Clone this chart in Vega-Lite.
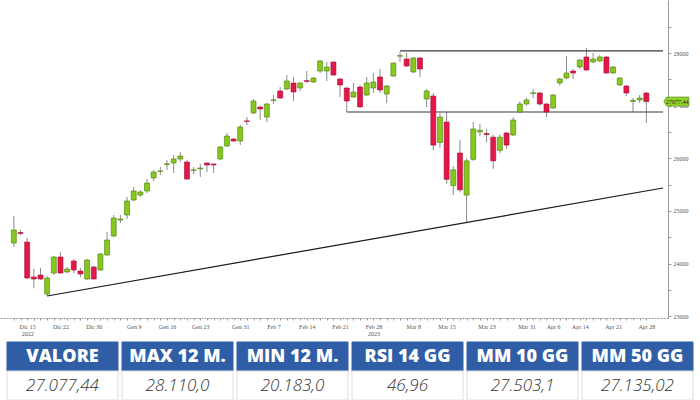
{
  "$schema": "https://vega.github.io/schema/vega-lite/v6.json",
  "background": "white",
  "padding": 0,
  "autosize": {"type": "pad"},
  "spacing": 24,
  "bounds": "flush",
  "config": {
    "view": {"stroke": null},
    "axis": {
      "labelFont": "Liberation Sans Narrow",
      "labelFontSize": 6,
      "labelColor": "#555555",
      "domainColor": "#9a9a9a",
      "tickColor": "#9a9a9a",
      "grid": false,
      "title": null
    }
  },
  "datasets": {
    "candles": [
      {"d":"2022-12-13","i":0,"o":24390,"h":24903,"l":24314,"c":24637},
      {"d":"2022-12-14","i":1,"o":24590,"h":24640,"l":24540,"c":24570},
      {"d":"2022-12-15","i":2,"o":24409,"h":24485,"l":23700,"c":23725},
      {"d":"2022-12-16","i":3,"o":23745,"h":23896,"l":23535,"c":23706},
      {"d":"2022-12-19","i":4,"o":23782,"h":23915,"l":23690,"c":23706},
      {"d":"2022-12-20","i":5,"o":23421,"h":23760,"l":23383,"c":23725},
      {"d":"2022-12-21","i":6,"o":23820,"h":24143,"l":23782,"c":24124},
      {"d":"2022-12-22","i":7,"o":24124,"h":24219,"l":23800,"c":23820},
      {"d":"2022-12-23","i":8,"o":23839,"h":23934,"l":23820,"c":23896},
      {"d":"2022-12-27","i":9,"o":24048,"h":24086,"l":23820,"c":23877},
      {"d":"2022-12-28","i":10,"o":23858,"h":23915,"l":23744,"c":23801},
      {"d":"2022-12-29","i":11,"o":23706,"h":24090,"l":23690,"c":24067},
      {"d":"2022-12-30","i":12,"o":23934,"h":23960,"l":23690,"c":23706},
      {"d":"2023-01-02","i":13,"o":23877,"h":24200,"l":23860,"c":24181},
      {"d":"2023-01-03","i":14,"o":24162,"h":24599,"l":24140,"c":24447},
      {"d":"2023-01-04","i":15,"o":24523,"h":24922,"l":24500,"c":24865},
      {"d":"2023-01-05","i":16,"o":24827,"h":24922,"l":24770,"c":24846},
      {"d":"2023-01-06","i":17,"o":24922,"h":25264,"l":24846,"c":25188},
      {"d":"2023-01-09","i":18,"o":25207,"h":25454,"l":25188,"c":25378},
      {"d":"2023-01-10","i":19,"o":25302,"h":25397,"l":25264,"c":25359},
      {"d":"2023-01-11","i":20,"o":25378,"h":25606,"l":25340,"c":25530},
      {"d":"2023-01-12","i":21,"o":25625,"h":25777,"l":25568,"c":25739},
      {"d":"2023-01-13","i":22,"o":25750,"h":25834,"l":25682,"c":25760},
      {"d":"2023-01-16","i":23,"o":25880,"h":25967,"l":25777,"c":25895},
      {"d":"2023-01-17","i":24,"o":25910,"h":26062,"l":25720,"c":25986},
      {"d":"2023-01-18","i":25,"o":25986,"h":26119,"l":25929,"c":26043},
      {"d":"2023-01-19","i":26,"o":25929,"h":25967,"l":25590,"c":25606},
      {"d":"2023-01-20","i":27,"o":25770,"h":25834,"l":25701,"c":25780},
      {"d":"2023-01-23","i":28,"o":25800,"h":25891,"l":25644,"c":25815},
      {"d":"2023-01-24","i":29,"o":25910,"h":25920,"l":25739,"c":25872},
      {"d":"2023-01-25","i":30,"o":25891,"h":25900,"l":25720,"c":25872},
      {"d":"2023-01-26","i":31,"o":25986,"h":26233,"l":25967,"c":26214},
      {"d":"2023-01-27","i":32,"o":26233,"h":26480,"l":26214,"c":26423},
      {"d":"2023-01-30","i":33,"o":26366,"h":26385,"l":26309,"c":26328},
      {"d":"2023-01-31","i":34,"o":26328,"h":26632,"l":26252,"c":26594},
      {"d":"2023-02-01","i":35,"o":26710,"h":26784,"l":26632,"c":26700},
      {"d":"2023-02-02","i":36,"o":26860,"h":27126,"l":26841,"c":27088},
      {"d":"2023-02-03","i":37,"o":26974,"h":26990,"l":26727,"c":26936},
      {"d":"2023-02-06","i":38,"o":26784,"h":27050,"l":26689,"c":27031},
      {"d":"2023-02-07","i":39,"o":27100,"h":27202,"l":27031,"c":27110},
      {"d":"2023-02-08","i":40,"o":27278,"h":27354,"l":27126,"c":27145},
      {"d":"2023-02-09","i":41,"o":27316,"h":27582,"l":27297,"c":27468},
      {"d":"2023-02-10","i":42,"o":27430,"h":27544,"l":27088,"c":27259},
      {"d":"2023-02-13","i":43,"o":27335,"h":27449,"l":27278,"c":27430},
      {"d":"2023-02-14","i":44,"o":27475,"h":27658,"l":27430,"c":27460},
      {"d":"2023-02-15","i":45,"o":27449,"h":27544,"l":27430,"c":27525},
      {"d":"2023-02-16","i":46,"o":27658,"h":27867,"l":27620,"c":27848},
      {"d":"2023-02-17","i":47,"o":27658,"h":27829,"l":27468,"c":27734},
      {"d":"2023-02-20","i":48,"o":27829,"h":27840,"l":27563,"c":27582},
      {"d":"2023-02-21","i":49,"o":27506,"h":27525,"l":27164,"c":27392},
      {"d":"2023-02-22","i":50,"o":27335,"h":27345,"l":26879,"c":27088},
      {"d":"2023-02-23","i":51,"o":27164,"h":27430,"l":27145,"c":27259},
      {"d":"2023-02-24","i":52,"o":27354,"h":27392,"l":26960,"c":26974},
      {"d":"2023-02-27","i":53,"o":27202,"h":27544,"l":27183,"c":27430},
      {"d":"2023-02-28","i":54,"o":27335,"h":27620,"l":27240,"c":27449},
      {"d":"2023-03-01","i":55,"o":27544,"h":27696,"l":27240,"c":27297},
      {"d":"2023-03-02","i":56,"o":27221,"h":27392,"l":27050,"c":27373},
      {"d":"2023-03-03","i":57,"o":27563,"h":27820,"l":27544,"c":27810},
      {"d":"2023-03-06","i":58,"o":27940,"h":28019,"l":27829,"c":27950},
      {"d":"2023-03-07","i":59,"o":27886,"h":28000,"l":27734,"c":27753},
      {"d":"2023-03-08","i":60,"o":27639,"h":27924,"l":27620,"c":27905},
      {"d":"2023-03-09","i":61,"o":27905,"h":27924,"l":27544,"c":27696},
      {"d":"2023-03-10","i":62,"o":27126,"h":27316,"l":26974,"c":27278},
      {"d":"2023-03-13","i":63,"o":27183,"h":27240,"l":26150,"c":26250},
      {"d":"2023-03-14","i":64,"o":26300,"h":26860,"l":26200,"c":26784},
      {"d":"2023-03-15","i":65,"o":26689,"h":26879,"l":25520,"c":25600},
      {"d":"2023-03-16","i":66,"o":25480,"h":25850,"l":25300,"c":25780},
      {"d":"2023-03-17","i":67,"o":26100,"h":26347,"l":25350,"c":25400},
      {"d":"2023-03-20","i":68,"o":25300,"h":26000,"l":24790,"c":25950},
      {"d":"2023-03-21","i":69,"o":25980,"h":26689,"l":25950,"c":26556},
      {"d":"2023-03-22","i":70,"o":26500,"h":26650,"l":26420,"c":26530},
      {"d":"2023-03-23","i":71,"o":26470,"h":26560,"l":26300,"c":26450},
      {"d":"2023-03-24","i":72,"o":26400,"h":26450,"l":25800,"c":25950},
      {"d":"2023-03-27","i":73,"o":26150,"h":26450,"l":26100,"c":26400},
      {"d":"2023-03-28","i":74,"o":26480,"h":26500,"l":26180,"c":26250},
      {"d":"2023-03-29","i":75,"o":26442,"h":26780,"l":26420,"c":26727},
      {"d":"2023-03-30","i":76,"o":26879,"h":27080,"l":26860,"c":27031},
      {"d":"2023-03-31","i":77,"o":27031,"h":27150,"l":27000,"c":27107},
      {"d":"2023-04-03","i":78,"o":27230,"h":27320,"l":27145,"c":27245},
      {"d":"2023-04-04","i":79,"o":27240,"h":27260,"l":27000,"c":27031},
      {"d":"2023-04-05","i":80,"o":27031,"h":27050,"l":26784,"c":26879},
      {"d":"2023-04-06","i":81,"o":26955,"h":27220,"l":26940,"c":27202},
      {"d":"2023-04-11","i":82,"o":27430,"h":27530,"l":27380,"c":27506},
      {"d":"2023-04-12","i":83,"o":27525,"h":27943,"l":27500,"c":27620},
      {"d":"2023-04-13","i":84,"o":27658,"h":27696,"l":27506,"c":27620},
      {"d":"2023-04-14","i":85,"o":27734,"h":27880,"l":27700,"c":27867},
      {"d":"2023-04-17","i":86,"o":27924,"h":28095,"l":27660,"c":27677},
      {"d":"2023-04-18","i":87,"o":27829,"h":28000,"l":27810,"c":27886},
      {"d":"2023-04-19","i":88,"o":27848,"h":27960,"l":27830,"c":27924},
      {"d":"2023-04-20","i":89,"o":27924,"h":27940,"l":27600,"c":27620},
      {"d":"2023-04-21","i":90,"o":27620,"h":27750,"l":27600,"c":27734},
      {"d":"2023-04-24","i":91,"o":27392,"h":27540,"l":27380,"c":27525},
      {"d":"2023-04-25","i":92,"o":27373,"h":27390,"l":27183,"c":27240},
      {"d":"2023-04-26","i":93,"o":27080,"h":27145,"l":26879,"c":27100},
      {"d":"2023-04-27","i":94,"o":27107,"h":27202,"l":27050,"c":27145},
      {"d":"2023-04-28","i":95,"o":27240,"h":27259,"l":26670,"c":27077.44}
    ],
    "levels": [
      {"name":"trend","i1":5,"v1":23383,"i2":97.5,"v2":25435},
      {"name":"resistance","i1":58,"v1":28040,"i2":97.5,"v2":28040},
      {"name":"support","i1":50,"v1":26880,"i2":97.5,"v2":26880}
    ],
    "last": [{"i":95,"c":27077.44,"t":"27077.44"}],
    "stats": [
      {"k":"VALORE","val":"27.077,44"},
      {"k":"MAX 12 M.","val":"28.110,0"},
      {"k":"MIN 12 M.","val":"20.183,0"},
      {"k":"RSI 14 GG","val":"46,96"},
      {"k":"MM 10 GG","val":"27.503,1"},
      {"k":"MM 50 GG","val":"27.135,02"}
    ]
  },
  "vconcat": [
    {
      "width": 668,
      "height": 318,
      "encoding": {
        "x": {"type": "quantitative",
          "scale": {"domain": [-1.33, 97.5], "nice": false, "zero": false},
          "axis": {
            "orient": "bottom",
            "values": [0,1,2,3,4,5,6,7,8,9,10,11,12,13,14,15,16,17,18,19,20,21,22,23,24,25,26,27,28,29,30,31,32,33,34,35,36,37,38,39,40,41,42,43,44,45,46,47,48,49,50,51,52,53,54,55,56,57,58,59,60,61,62,63,64,65,66,67,68,69,70,71,72,73,74,75,76,77,78,79,80,81,82,83,84,85,86,87,88,89,90,91,92,93,94,95],
            "labelExpr": "({'2':['Dic 15','2022'],'7':'Dic 22','12':'Dic 30','18':'Gen 9','23':'Gen 16','28':'Gen 23','34':'Gen 31','39':'Feb 7','44':'Feb 14','49':'Feb 21','54':['Feb 28','2023'],'60':'Mar 8','65':'Mar 15','71':'Mar 23','77':'Mar 31','81':'Apr 6','85':'Apr 14','90':'Apr 21','95':'Apr 28'})[datum.value] || ''",
            "labelOverlap": false,
            "labelFlush": false,
            "labelLineHeight": 7,
            "labelPadding": 3,
            "tickSize": 2,
            "domainDash": [2, 1],
            "title": null
          }
        },
        "y": {"type": "quantitative",
          "scale": {"domain": [22965, 29007], "nice": false, "zero": false},
          "axis": {
            "orient": "right",
            "values": [23000,23500,24000,24500,25000,25500,26000,26500,27000,27500,28000,28500],
            "format": "d",
            "labelExpr": "datum.value % 1000 === 0 ? datum.label : ''",
            "tickSize": 3,
            "labelPadding": 2,
            "title": null
          }
        }
      },
      "layer": [
        {
          "data": {"name": "candles"},
          "mark": {"type": "rule", "strokeWidth": 1},
          "encoding": {
            "x": {"field": "i"},
            "y": {"field": "l"},
            "y2": {"field": "h"},
            "color": {"value": "#8c8c8c"}
          }
        },
        {
          "data": {"name": "levels"},
          "mark": {"type": "rule"},
          "encoding": {
            "x": {"field": "i1"},
            "x2": {"field": "i2"},
            "y": {"field": "v1"},
            "y2": {"field": "v2"},
            "color": {"condition": {"test": "datum.name === 'trend'", "value": "#1a1a1a"}, "value": "#3a3a3a"},
            "strokeWidth": {"condition": {"test": "datum.name === 'trend'", "value": 1.25}, "value": 1.1}
          }
        },
        {
          "data": {"name": "candles"},
          "mark": {"type": "bar", "size": 5, "strokeWidth": 0.6},
          "encoding": {
            "x": {"field": "i"},
            "y": {"field": "o"},
            "y2": {"field": "c"},
            "fill": {"condition": {"test": "datum.c >= datum.o", "value": "#86c81e"}, "value": "#e3174a"},
            "stroke": {"condition": {"test": "datum.c >= datum.o", "value": "#4d7e0c"}, "value": "#a80d33"}
          }
        },
        {
          "data": {"name": "last"},
          "mark": {"type": "point", "filled": true, "shape": "M -1 0 L -0.78 -0.36 L 1 -0.36 L 1 0.36 L -0.78 0.36 Z", "size": 625, "xOffset": 30, "fill": "#93d22a", "stroke": "#4d7e0c", "strokeWidth": 0.6, "opacity": 1},
          "encoding": {
            "x": {"field": "i"},
            "y": {"field": "c"}
          }
        },
        {
          "data": {"name": "last"},
          "mark": {"type": "text", "dx": 31, "align": "center", "baseline": "middle", "font": "Liberation Sans Narrow", "fontSize": 6, "color": "#1e2a10"},
          "encoding": {
            "x": {"field": "i"},
            "y": {"field": "c"},
            "text": {"field": "t"}
          }
        }
      ]
    },
    {
      "width": 700,
      "height": 58,
      "data": {"name": "stats"},
      "transform": [{"fold": ["k", "val"], "as": ["part", "txt"]}],
      "encoding": {
        "x": {"field": "k", "type": "nominal", "sort": null, "scale": {"paddingInner": 0.035, "paddingOuter": 0.061}, "axis": null},
        "y": {"field": "part", "type": "nominal", "sort": ["k", "val"], "scale": {"paddingInner": 0, "paddingOuter": 0}, "axis": null}
      },
      "layer": [
        {
          "mark": {"type": "rect", "strokeWidth": 1},
          "encoding": {
            "fill": {"condition": {"test": "datum.part === 'k'", "value": "#2f5ea6"}, "value": "#ffffff"},
            "stroke": {"condition": {"test": "datum.part === 'k'", "value": "#2f5ea6"}, "value": "#dedede"}
          }
        },
        {
          "transform": [{"filter": "datum.part === 'k'"}],
          "mark": {"type": "text", "font": "Open Sans", "fontWeight": 800, "fontSize": 18, "color": "#ffffff", "align": "center", "baseline": "middle"},
          "encoding": {"text": {"field": "txt"}}
        },
        {
          "transform": [{"filter": "datum.part === 'val'"}],
          "mark": {"type": "text", "font": "Open Sans", "fontWeight": 300, "fontStyle": "italic", "fontSize": 17, "color": "#333333", "align": "center", "baseline": "middle"},
          "encoding": {"text": {"field": "txt"}}
        }
      ]
    }
  ]
}
